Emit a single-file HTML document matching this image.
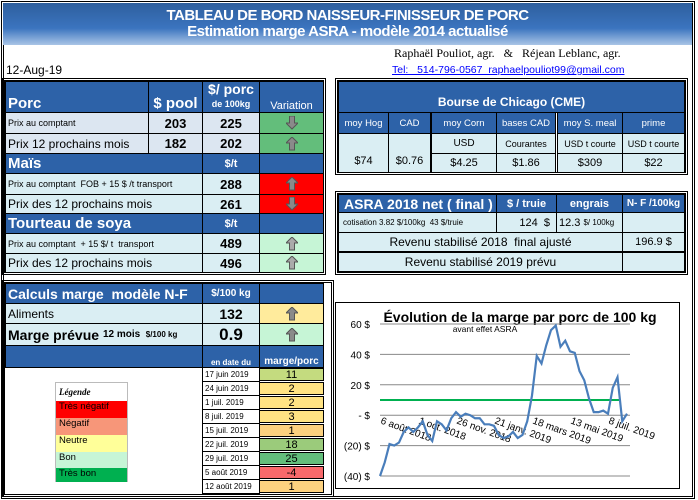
<!DOCTYPE html>
<html><head><meta charset="utf-8">
<style>
*{box-sizing:border-box;margin:0;padding:0}
body{width:698px;height:500px;position:relative;background:#fff;font-family:"Liberation Sans",sans-serif;overflow:hidden;color:#000}
.c{position:absolute;border:1px solid #000;display:flex;align-items:center;justify-content:center;font-size:11px;white-space:nowrap;overflow:hidden}
.h{background:#2d62a8;color:#fff;font-weight:bold}
.l{justify-content:flex-start;padding-left:2px}
.g{background:#dce6f1}
.t{background:#daeef3}
.b{font-weight:bold;font-size:13px}
.abs{position:absolute;white-space:nowrap}
.fr{position:absolute;border:3px double #000}
</style></head><body>
<div class="fr" style="left:1px;top:1px;width:694px;height:498px"></div>
<div class="abs" style="left:3px;top:3px;width:689px;height:42px;background:linear-gradient(#2e5f9e,#3b74bf 60%,#a9c4e6);color:#fff;font-weight:bold;text-align:center;font-size:15px;line-height:16px;padding-top:5px;letter-spacing:-0.5px">
<div>TABLEAU DE BORD NAISSEUR-FINISSEUR DE PORC</div>
<div>Estimation marge ASRA - modèle 2014 actualisé</div></div>
<div class="abs" style="left:394px;top:46px;font-family:'Liberation Serif',serif;font-size:12px">Raphaël Pouliot, agr. &nbsp;&nbsp;&amp;&nbsp;&nbsp; Réjean Leblanc, agr.</div>
<div class="abs" style="left:6px;top:63px;font-size:12px">12-Aug-19</div>
<a class="abs" style="left:392px;top:64px;font-size:10.5px;color:#00f;text-decoration:underline">Tel: &nbsp;&nbsp;514-796-0567 &nbsp;raphaelpouliot99@gmail.com</a>

<!-- Left table -->
<div class="fr" style="left:2px;top:78px;width:324px;height:197px"></div>
<div class="c h l" style="left:5px;top:81px;width:144px;height:32px;font-size:15px;align-items:flex-end">Porc</div>
<div class="c h" style="left:148px;top:81px;width:55px;height:32px;font-size:15px;align-items:flex-end">$ pool</div>
<div class="c h" style="left:202px;top:81px;width:58px;height:32px;font-size:14px;flex-direction:column;line-height:15px">$/ porc<span style="font-size:9px">de 100kg</span></div>
<div class="c h" style="left:259px;top:81px;width:65px;height:32px;font-weight:normal;font-size:11px;align-items:flex-end">Variation</div>
<div class="c g l" style="left:5px;top:112px;width:144px;height:22px;font-size:9px">Prix au comptant</div>
<div class="c g b" style="left:148px;top:112px;width:55px;height:22px">203</div>
<div class="c g b" style="left:202px;top:112px;width:58px;height:22px">225</div>
<div class="c" style="left:259px;top:112px;width:65px;height:22px;background:#63be7b"><svg width="12" height="14"><polygon points="3.5,0 8.5,0 8.5,7 12,7 6,13 0,7 3.5,7" fill="#8a8a8a" stroke="#555"/></svg></div>
<div class="c g l" style="left:5px;top:133px;width:144px;height:21px;font-size:12px">Prix 12 prochains mois</div>
<div class="c g b" style="left:148px;top:133px;width:55px;height:21px">182</div>
<div class="c g b" style="left:202px;top:133px;width:58px;height:21px">202</div>
<div class="c" style="left:259px;top:133px;width:65px;height:21px;background:#63be7b"><svg width="12" height="14"><polygon points="6,0 12,6 8.5,6 8.5,13 3.5,13 3.5,6 0,6" fill="#8a8a8a" stroke="#555"/></svg></div>
<div class="c h l" style="left:5px;top:153px;width:198px;height:21px;font-size:15px">Maïs</div>
<div class="c h" style="left:202px;top:153px;width:58px;height:21px">$/t</div>
<div class="c h" style="left:259px;top:153px;width:65px;height:21px"></div>
<div class="c t l" style="left:5px;top:173px;width:198px;height:22px;font-size:9px">Prix au comptant &nbsp;FOB + 15 $ /t transport</div>
<div class="c t b" style="left:202px;top:173px;width:58px;height:22px">288</div>
<div class="c" style="left:259px;top:173px;width:65px;height:22px;background:#f00"><svg width="12" height="14"><polygon points="6,0 12,6 8.5,6 8.5,13 3.5,13 3.5,6 0,6" fill="#8a8a8a" stroke="#555"/></svg></div>
<div class="c t l" style="left:5px;top:194px;width:198px;height:20px;font-size:12px">Prix des 12 prochains mois</div>
<div class="c t b" style="left:202px;top:194px;width:58px;height:20px">261</div>
<div class="c" style="left:259px;top:194px;width:65px;height:20px;background:#f00"><svg width="12" height="14"><polygon points="3.5,0 8.5,0 8.5,7 12,7 6,13 0,7 3.5,7" fill="#8a8a8a" stroke="#555"/></svg></div>
<div class="c h l" style="left:5px;top:213px;width:198px;height:21px;font-size:15px">Tourteau de soya</div>
<div class="c h" style="left:202px;top:213px;width:58px;height:21px">$/t</div>
<div class="c h" style="left:259px;top:213px;width:65px;height:21px"></div>
<div class="c t l" style="left:5px;top:233px;width:198px;height:21px;font-size:9px">Prix au comptant &nbsp;+ 15 $/ t &nbsp;transport</div>
<div class="c t b" style="left:202px;top:233px;width:58px;height:21px">489</div>
<div class="c" style="left:259px;top:233px;width:65px;height:21px;background:#c6f5d6"><svg width="12" height="14"><polygon points="6,0 12,6 8.5,6 8.5,13 3.5,13 3.5,6 0,6" fill="#aaa" stroke="#555"/></svg></div>
<div class="c t l" style="left:5px;top:253px;width:198px;height:20px;font-size:12px">Prix des 12 prochains mois</div>
<div class="c t b" style="left:202px;top:253px;width:58px;height:20px">496</div>
<div class="c" style="left:259px;top:253px;width:65px;height:20px;background:#c6f5d6"><svg width="12" height="14"><polygon points="6,0 12,6 8.5,6 8.5,13 3.5,13 3.5,6 0,6" fill="#aaa" stroke="#555"/></svg></div>

<!-- Chicago -->
<div class="fr" style="left:335px;top:78px;width:353px;height:97px"></div>
<div class="c h" style="left:338px;top:81px;width:347px;height:32px;font-size:12px;align-items:flex-end;padding-bottom:3px">Bourse de Chicago (CME)</div>
<div class="c h" style="left:338px;top:112px;width:51px;height:22px;font-weight:normal;font-size:9.5px">moy Hog</div>
<div class="c h" style="left:388px;top:112px;width:43px;height:22px;font-weight:normal;font-size:9.5px">CAD</div>
<div class="c h" style="left:431px;top:112px;width:66px;height:22px;font-weight:normal;font-size:9.5px">moy Corn</div>
<div class="c h" style="left:496px;top:112px;width:60px;height:22px;font-weight:normal;font-size:9.5px">bases CAD</div>
<div class="c h" style="left:557px;top:112px;width:66px;height:22px;font-weight:normal;font-size:9.5px">moy S. meal</div>
<div class="c h" style="left:622px;top:112px;width:63px;height:22px;font-weight:normal;font-size:9.5px">prime</div>
<div class="c t" style="left:338px;top:133px;width:51px;height:40px;align-items:flex-end;padding-bottom:5px">$74</div>
<div class="c t" style="left:388px;top:133px;width:43px;height:40px;align-items:flex-end;padding-bottom:5px">$0.76</div>
<div class="c t" style="left:431px;top:133px;width:66px;height:21px;font-size:10px">USD</div>
<div class="c t" style="left:496px;top:133px;width:60px;height:21px;font-size:9px">Courantes</div>
<div class="c t" style="left:557px;top:133px;width:66px;height:21px;font-size:9px">USD t courte</div>
<div class="c t" style="left:622px;top:133px;width:63px;height:21px;font-size:9px">USD t courte</div>
<div class="c t" style="left:431px;top:153px;width:66px;height:20px">$4.25</div>
<div class="c t" style="left:496px;top:153px;width:60px;height:20px">$1.86</div>
<div class="c t" style="left:557px;top:153px;width:66px;height:20px">$309</div>
<div class="c t" style="left:622px;top:153px;width:63px;height:20px">$22</div>

<!-- ASRA -->
<div class="fr" style="left:335px;top:191px;width:353px;height:84px"></div>
<div class="c h l" style="left:338px;top:194px;width:159px;height:19px;font-size:14px;padding-left:5px">ASRA 2018 net ( final )</div>
<div class="c h" style="left:496px;top:194px;width:61px;height:19px">$ / truie</div>
<div class="c h" style="left:556px;top:194px;width:67px;height:19px">engrais</div>
<div class="c h" style="left:622px;top:194px;width:63px;height:19px;font-size:10px">N- F /100kg</div>
<div class="c t l" style="left:338px;top:212px;width:159px;height:21px;font-size:8px;padding-left:4px">cotisation 3.82 $/100kg &nbsp;43 $/truie</div>
<div class="c t" style="left:496px;top:212px;width:61px;height:21px;justify-content:flex-end;padding-right:6px">124 &nbsp;$</div>
<div class="c t l" style="left:556px;top:212px;width:67px;height:21px">12.3&nbsp;<span style="font-size:8px">$/ 100kg</span></div>
<div class="c t" style="left:622px;top:212px;width:63px;height:21px"></div>
<div class="c t" style="left:338px;top:232px;width:285px;height:20px;font-size:12px">Revenu stabilisé 2018 &nbsp;final ajusté</div>
<div class="c t" style="left:622px;top:232px;width:63px;height:20px">196.9 $</div>
<div class="c t" style="left:338px;top:252px;width:285px;height:20px;font-size:12px">Revenu stabilisé 2019 prévu</div>
<div class="c t" style="left:622px;top:252px;width:63px;height:20px"></div>

<!-- Calculs -->
<div class="fr" style="left:2px;top:280px;width:332px;height:217px"></div>
<div class="c h l" style="left:5px;top:283px;width:198px;height:21px;font-size:14px">Calculs marge &nbsp;modèle N-F</div>
<div class="c h" style="left:202px;top:283px;width:58px;height:21px;font-size:10px">$/100 kg</div>
<div class="c h" style="left:259px;top:283px;width:65px;height:21px"></div>
<div class="c t l" style="left:5px;top:303px;width:198px;height:21px;font-size:12px">Aliments</div>
<div class="c t b" style="left:202px;top:303px;width:58px;height:21px;font-size:14px">132</div>
<div class="c" style="left:259px;top:303px;width:65px;height:21px;background:#ffeb9c"><svg width="12" height="14"><polygon points="6,0 12,6 8.5,6 8.5,13 3.5,13 3.5,6 0,6" fill="#8a8a8a" stroke="#555"/></svg></div>
<div class="c t l" style="left:5px;top:323px;width:198px;height:23px;font-size:14px;font-weight:bold">Marge prévue&nbsp;<span style="font-size:10px">12 mois &nbsp;<span style="font-size:8px">$/100 kg</span></span></div>
<div class="c t b" style="left:202px;top:323px;width:58px;height:23px;font-size:17px">0.9</div>
<div class="c" style="left:259px;top:323px;width:65px;height:23px;background:#c6f5d6"><svg width="12" height="14"><polygon points="6,0 12,6 8.5,6 8.5,13 3.5,13 3.5,6 0,6" fill="#8a8a8a" stroke="#555"/></svg></div>
<div class="c h" style="left:5px;top:345px;width:198px;height:23px;border-right:none"></div>
<div class="c h" style="left:202px;top:345px;width:58px;height:23px;font-size:8px;align-items:flex-end">en date du</div>
<div class="c h" style="left:259px;top:345px;width:65px;height:23px;font-size:10px;align-items:flex-end">marge/porc</div>
<div id="hist"></div>

<!-- Legend -->
<div class="abs" style="left:55px;top:382px;width:73px;height:100px;border:1px solid #bbb;font-size:9.5px">
<div style="height:18px;font-family:'Liberation Serif',serif;font-style:italic;font-weight:bold;font-size:9px;padding:4px 0 0 3px">Légende</div>
<div style="height:17px;background:#f00;padding-left:3px">Très négatif</div>
<div style="height:17px;background:#f79679;padding-left:3px">Négatif</div>
<div style="height:17px;background:#ffff99;padding-left:3px">Neutre</div>
<div style="height:16px;background:#c6f5d6;padding-left:3px">Bon</div>
<div style="height:14px;background:#00b050;padding-left:3px">Très bon</div>
</div>

<!-- Chart -->
<svg id="chart" width="698" height="500" style="position:absolute;left:0;top:0" font-family="Liberation Sans, sans-serif">
<rect x="335.5" y="302.5" width="344" height="186" fill="#fff" stroke="#000"/>
<text x="520" y="322" text-anchor="middle" font-size="14" font-weight="bold">Évolution de la marge par porc de 100 kg</text>
<text x="485" y="332" text-anchor="middle" font-size="8.5">avant effet ASRA</text>
<g id="grid"></g><g id="xl"></g>
</svg>

<script>
const histDates=["17 juin 2019","24 juin 2019","1 juil. 2019","8 juil. 2019","15 juil. 2019","22 juil. 2019","29 juil. 2019","5 août 2019","12 août 2019"];
const histValues=[11,2,2,3,1,18,25,-4,1];
const marginSeries=[-40,-31,-19,-20,-18,-11,-8,-11,-8,-4,-13,-17,-4,-6,-10,-2,2,-1,1,0,-2,-2,-6,-6,-7,-13,-15,-14,-11,-15,-13,-4,13,39,34,46,56,59,45,49,42,41,29,23,11,2,2,3,1,18,25,-4,1];
const yTicks=[60,40,20,0,-20,-40];
const yTickLabels=["60  $","40  $","20  $","-   $","(20) $","(40) $"];
const xLabels=["6 août 2018","1 oct. 2018","26 nov. 2018","21 janv. 2019","18 mars 2019","13 mai 2019","8 juil. 2019"];
const xLabelWeeks=[0,8,16,24,32,40,48];
const targetLine=10;

function histColor(v){
  if(v>=25)return "#63be7b";if(v>=18)return "#9bcb7b";if(v>=11)return "#c4db7f";
  if(v>=2)return "#ffe383";if(v>=0)return "#fcd17f";return "#f8696b";}
const hist=document.getElementById('hist');
const rowTops=[367,381,395,409,423,437,451,465,479];
histDates.forEach((d,i)=>{
  const t=367+i*14;
  const a=document.createElement('div');
  a.className='c';a.style.cssText=`left:202px;top:${t}px;width:58px;height:15px;font-size:8px;justify-content:flex-start;padding-left:2px;background:#fff`;
  a.textContent=d;
  
  
  hist.appendChild(a);
  const b=document.createElement('div');
  b.className='c';b.style.cssText=`left:259px;top:${t+1}px;width:65px;height:13px;font-size:11px;background:${histColor(histValues[i])}`;
  b.textContent=histValues[i];
  
  
  hist.appendChild(b);
});

const NS="http://www.w3.org/2000/svg";
const x0=380,x1=627,yTop=324,yBot=476;
const xs=w=>x0+w*(x1-x0)/(marginSeries.length-1);
const ys=v=>yBot-(v+40)*(yBot-yTop)/100;
const grid=document.getElementById('grid');
yTicks.forEach((v,i)=>{
  const l=document.createElementNS(NS,'line');
  l.setAttribute('x1',x0);l.setAttribute('x2',630);l.setAttribute('y1',ys(v));l.setAttribute('y2',ys(v));
  l.setAttribute('stroke','#888');l.setAttribute('stroke-width','1');
  
  
  grid.appendChild(l);
  const t=document.createElementNS(NS,'text');
  t.setAttribute('x',370);t.setAttribute('y',ys(v)+4);t.setAttribute('text-anchor','end');t.setAttribute('font-size','10');
  t.textContent=yTickLabels[i];
  
  
  grid.appendChild(t);
});
const xl=document.getElementById('xl');
xLabels.forEach((s,i)=>{
  const x=xs(xLabelWeeks[i]),y=ys(0)+8;
  const t=document.createElementNS(NS,'text');
  t.setAttribute('x',x);t.setAttribute('y',y);t.setAttribute('font-size','10');
  t.setAttribute('transform',`rotate(20 ${x} ${y})`);
  t.textContent=s;
  
  
  xl.appendChild(t);
});
const chart=document.getElementById('chart');
const tl=document.createElementNS(NS,'line');
tl.setAttribute('x1',x0);tl.setAttribute('x2',619);tl.setAttribute('y1',ys(targetLine));tl.setAttribute('y2',ys(targetLine));
tl.setAttribute('stroke','#00b050');tl.setAttribute('stroke-width','2');


chart.appendChild(tl);
const p=document.createElementNS(NS,'polyline');
p.setAttribute('points',marginSeries.map((v,i)=>xs(i)+','+ys(v)).join(' '));
p.setAttribute('fill','none');p.setAttribute('stroke','#4a7ebb');p.setAttribute('stroke-width','2.2');


chart.appendChild(p);
</script>
</body></html>
